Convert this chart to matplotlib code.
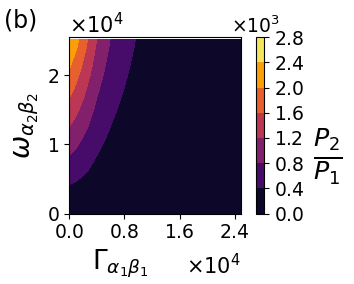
import numpy as np
from matplotlib import pyplot as plt
from matplotlib import rc
from matplotlib import transforms

rc('axes.formatter', use_mathtext=True)
rc('font', size=13.5)

# grid nodes, Gamma_{a1b1} and omega_{a2b2}
gamma = np.array([0, 0.1, 0.2, 0.3, 0.4, 0.5, 0.6, 0.7, 0.8, 0.9, 1.0, 1.2, 1.5, 2.0, 2.5]) * 1e4
omega = np.array([0, 0.3, 0.6, 0.9, 1.2, 1.5, 1.8, 2.1, 2.4, 2.52]) * 1e4
# P2/P1 read along the left edge (Gamma = 0)
ratio_left = np.array([0, 0.29, 0.58, 0.86, 1.15, 1.44, 1.73, 2.02, 2.30, 2.39]) * 1e3
# relative fall-off of P2/P1 along Gamma
falloff = np.array([1.0, 0.89, 0.76, 0.63, 0.50, 0.41, 0.33, 0.275, 0.228,
                    0.188, 0.154, 0.105, 0.06, 0.025, 0.01])
levels = np.array([0, 0.4, 0.8, 1.2, 1.6, 2.0, 2.4, 2.8]) * 1e3
xticks = np.array([0, 0.8, 1.6, 2.4]) * 1e4
yticks = np.array([0, 1, 2]) * 1e4

Z = np.outer(ratio_left, falloff)

fig = plt.figure(figsize=(3.54, 2.84), dpi=100)
ax = fig.add_axes([0.195, 0.248, 0.485, 0.621])
cax = fig.add_axes([0.7223, 0.248, 0.0243, 0.621])

cs = ax.contourf(gamma, omega, Z, levels=levels, cmap='inferno')
ax.set_xlim(0, 2.485e4)
ax.set_ylim(0, 2.546e4)
ax.set_xticks(xticks)
ax.set_yticks(yticks)
ax.ticklabel_format(style='sci', scilimits=(0, 0))
ax.set_xlabel(r'$\Gamma_{\alpha_1\beta_1}$', fontsize=19, x=0.3)
ax.set_ylabel(r'$\omega_{\alpha_2\beta_2}$', fontsize=20)

# offset texts sit a bit larger / lower in the original
xoff = ax.xaxis.get_offset_text()
xoff.set_fontsize(15)
xoff.set_transform(xoff.get_transform() +
                   transforms.ScaledTranslation(0, -5 / 72, fig.dpi_scale_trans))
ax.yaxis.get_offset_text().set_fontsize(15)

cbar = fig.colorbar(cs, cax=cax, ticks=levels)
cbar.formatter.set_powerlimits((0, 0))
cbar.update_ticks()
cbar.set_label(r'$\frac{P_2}{P_1}$', fontsize=26, rotation=0,
               ha='left', va='center', y=0.32, labelpad=6)
coff = cax.yaxis.get_offset_text()
coff.set_x(0)
coff.set_horizontalalignment('center')

fig.text(0.01, 0.97, '(b)', fontsize=17, va='top')

plt.savefig('out.png', dpi=100)
